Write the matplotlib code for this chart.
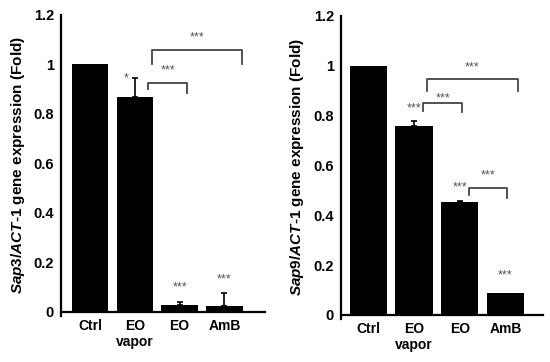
import matplotlib as mpl
mpl.use('Agg')
import matplotlib.pyplot as plt

plt.rcParams['font.family'] = ['Liberation Sans', 'DejaVu Sans']
plt.rcParams['font.weight'] = 'bold'
plt.rcParams['mathtext.fontset'] = 'custom'
plt.rcParams['mathtext.it'] = 'Liberation Sans:italic:bold'
plt.rcParams['mathtext.rm'] = 'Liberation Sans:bold'

groups = ['Ctrl', 'EO\nvapor', 'EO', 'AmB']

sap3 = [1.0, 0.87, 0.03, 0.025]
sap3_err = [0, 0.075, 0.01, 0.05]
sap3_stars = ['', '*', '***', '***']

sap9 = [1.0, 0.76, 0.454, 0.088]
sap9_err = [0, 0.018, 0.004, 0]
sap9_stars = ['', '***', '***', '***']

# brackets: x start, x end, top, left leg, right leg, label height
sap3_brackets = [(1.3, 2.17, 0.925, 0.90, 0.885, 0.975),
                 (1.39, 3.4, 1.06, 1.0, 1.0, 1.11)]
sap9_brackets = [(1.2, 2.05, 0.85, 0.82, 0.815, 0.87),
                 (1.29, 3.27, 0.945, 0.9, 0.9, 0.995),
                 (2.2, 3.03, 0.51, 0.48, 0.47, 0.56)]

fig = plt.figure(figsize=(5.5, 3.62), dpi=100)


def panel(rect, vals, errs, stars, brackets, gene, star_y, xlim):
    ax = fig.add_axes(rect)
    x = list(range(len(vals)))
    ax.bar(x, vals, width=0.82, color='black')
    for i in x:
        if errs[i] > 0:
            ax.errorbar(i, vals[i], yerr=[[0], [errs[i]]], color='black',
                        capsize=2.5, elinewidth=1.2, capthick=1.2)
        if stars[i]:
            ax.text(i - 0.2 if stars[i] == '*' else i, star_y[i], stars[i],
                    ha='center', va='center', fontsize=9, color='#555555',
                    fontweight='normal')
    for x0, x1, top, l, r, ty in brackets:
        ax.plot([x0, x0, x1, x1], [l, top, top, r], color='#444444', lw=1.3)
        ax.text((x0 + x1) / 2, ty, '***', ha='center', va='center',
                fontsize=9, color='#555555', fontweight='normal')
    ax.set_xlim(*xlim)
    ax.set_ylim(-0.015, 1.2)
    ax.set_yticks([0, 0.2, 0.4, 0.6, 0.8, 1.0, 1.2])
    ax.set_yticklabels(['0', '0.2', '0.4', '0.6', '0.8', '1', '1.2'])
    ax.set_xticks(x)
    ax.set_xticklabels(groups, linespacing=1.15)
    for lab in ax.get_yticklabels():
        lab.set_fontsize(10.5)
        lab.set_fontweight('bold')
    for lab in ax.get_xticklabels():
        lab.set_fontsize(12)
        lab.set_fontweight('bold')
    ax.tick_params(length=0, pad=5)
    ax.spines['top'].set_visible(False)
    ax.spines['right'].set_visible(False)
    ax.spines['bottom'].set_position(('data', 0))
    ax.spines['left'].set_linewidth(1.6)
    ax.spines['bottom'].set_linewidth(1.6)
    ax.set_ylabel(r'$\mathit{' + gene + r'/ACT}$-$\mathit{1}$ gene expression (Fold)',
                  fontsize=11, fontweight='bold', labelpad=5)
    return ax


panel([0.111, 0.128, 0.371, 0.831], sap3, sap3_err, sap3_stars,
      sap3_brackets, 'Sap3', [0, 0.945, 0.097, 0.13], (-0.65, 3.91))
panel([0.62, 0.120, 0.367, 0.836], sap9, sap9_err, sap9_stars,
      sap9_brackets, 'Sap9', [0, 0.83, 0.51, 0.16], (-0.6, 3.82))

plt.savefig('out.png', dpi=100)
